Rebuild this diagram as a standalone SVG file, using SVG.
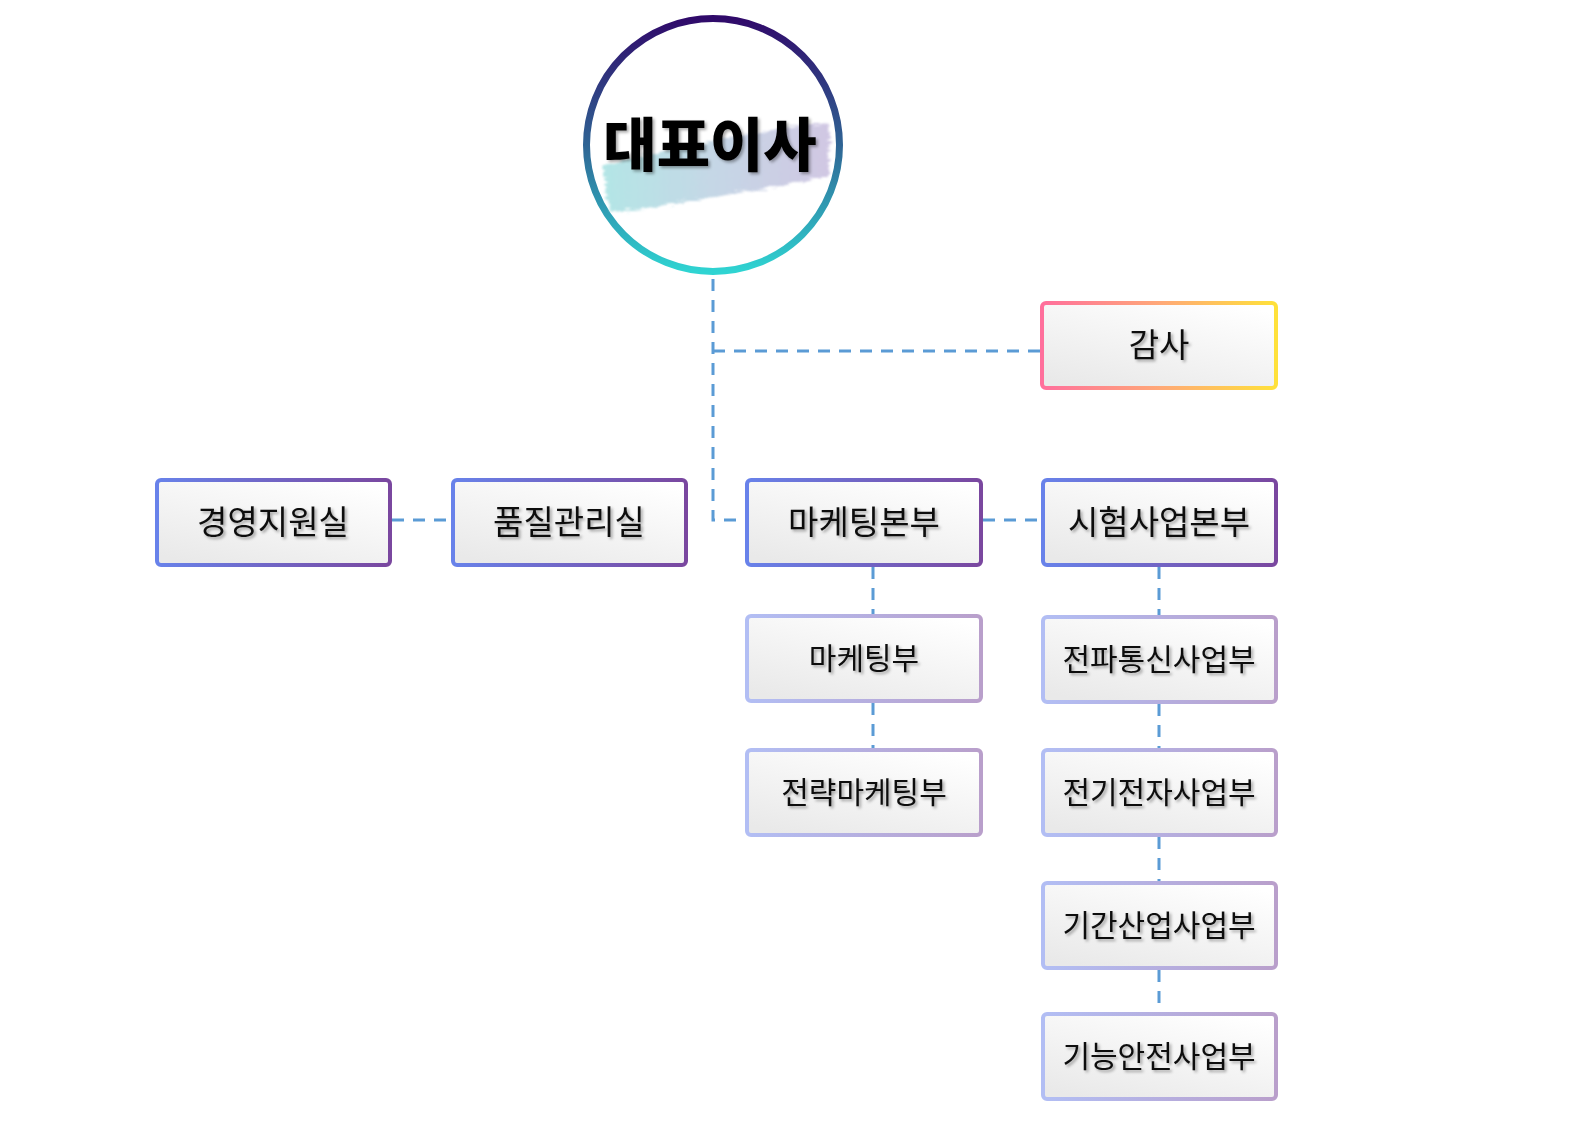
<svg xmlns="http://www.w3.org/2000/svg" width="1576" height="1125" viewBox="0 0 1576 1125">
<defs>
<linearGradient id="fillG" x1="0.8" y1="0" x2="0.2" y2="1">
<stop offset="0" stop-color="#ffffff"/>
<stop offset="1" stop-color="#e9e9e9"/>
</linearGradient>
<linearGradient id="mainStroke" x1="0" y1="0" x2="1" y2="0">
<stop offset="0" stop-color="#6882ea"/>
<stop offset="1" stop-color="#7a479f"/>
</linearGradient>
<linearGradient id="subStroke" x1="0" y1="0" x2="1" y2="0">
<stop offset="0" stop-color="#b2bef4"/>
<stop offset="1" stop-color="#b99fcb"/>
</linearGradient>
<linearGradient id="auditStroke" x1="0" y1="0" x2="1" y2="0">
<stop offset="0" stop-color="#ff6f9c"/>
<stop offset="0.5" stop-color="#ffa878"/>
<stop offset="1" stop-color="#ffe13a"/>
</linearGradient>
<linearGradient id="circleStroke" x1="0" y1="0" x2="0" y2="1">
<stop offset="0" stop-color="#300a6a"/>
<stop offset="0.5" stop-color="#2f6494"/>
<stop offset="1" stop-color="#2fd4d2"/>
</linearGradient>
<linearGradient id="brushG" x1="0" y1="0" x2="1" y2="0">
<stop offset="0" stop-color="#a7e2e2"/>
<stop offset="0.5" stop-color="#bcd0e2"/>
<stop offset="1" stop-color="#c9bedf"/>
</linearGradient>
<filter id="shadow" x="-10%" y="-20%" width="130%" height="150%">
<feDropShadow dx="2" dy="2" stdDeviation="1.5" flood-color="#000" flood-opacity="0.35"/>
</filter>
<filter id="brushF" x="-10%" y="-30%" width="120%" height="160%">
<feTurbulence type="fractalNoise" baseFrequency="0.08 0.5" numOctaves="2" seed="3" result="n"/>
<feDisplacementMap in="SourceGraphic" in2="n" scale="10" xChannelSelector="R" yChannelSelector="G" result="d"/>
<feGaussianBlur in="d" stdDeviation="0.8"/>
</filter>
<style>
.box{fill:url(#fillG);stroke-width:4}
.main{stroke:url(#mainStroke)}
.sub{stroke:url(#subStroke)}
.audit{stroke:url(#auditStroke)}
.lbl{font-family:"Noto Sans CJK KR","Noto Sans",sans-serif;fill:#111;text-anchor:middle;filter:url(#shadow)}
.big{font-size:33px}
.small{font-size:30px}
.conn{fill:none;stroke:#5b9bd5;stroke-width:3;stroke-dasharray:12 9}
</style>
</defs>
<rect width="1576" height="1125" fill="#ffffff"/>

<g id="connectors">
<path class="conn" d="M713 279 V520 H745"/>
<path class="conn" d="M713 351 H1040"/>
<path class="conn" d="M392 520 H451"/>
<path class="conn" d="M983 520 H1041"/>
<path class="conn" d="M873 567 V614"/>
<path class="conn" d="M873 703 V748"/>
<path class="conn" d="M1159 567 V615"/>
<path class="conn" d="M1159 704 V748"/>
<path class="conn" d="M1159 837 V881"/>
<path class="conn" d="M1159 970 V1012"/>
</g>

<g id="ceo">
<circle cx="713" cy="145" r="126.5" fill="#ffffff" stroke="url(#circleStroke)" stroke-width="7"/>
<path d="M604 166 C640 156 700 142 760 132 C790 127 815 122 830 124 L828 176 C800 182 760 190 720 196 C680 202 640 210 612 212 C606 200 604 185 604 166 Z" fill="url(#brushG)" opacity="0.85" filter="url(#brushF)"/>
<text x="710" y="166" font-family="'Noto Sans CJK KR','Noto Sans',sans-serif" font-weight="900" font-size="58" text-anchor="middle" fill="#000" filter="url(#shadow)">대표이사</text>
</g>

<g id="audit">
<rect class="box audit" x="1042" y="303" width="234" height="85" rx="4"/>
<text class="lbl big" x="1159" y="357">감사</text>
</g>

<g id="mgmt">
<rect class="box main" x="157" y="480" width="233" height="85" rx="4"/>
<text class="lbl big" x="273" y="534">경영지원실</text>
</g>

<g id="quality">
<rect class="box main" x="453" y="480" width="233" height="85" rx="4"/>
<text class="lbl big" x="569" y="534">품질관리실</text>
</g>

<g id="marketingHQ">
<rect class="box main" x="747" y="480" width="234" height="85" rx="4"/>
<text class="lbl big" x="864" y="534">마케팅본부</text>
</g>

<g id="testHQ">
<rect class="box main" x="1043" y="480" width="233" height="85" rx="4"/>
<text class="lbl big" x="1159" y="534">시험사업본부</text>
</g>

<g id="marketing">
<rect class="box sub" x="747" y="616" width="234" height="85" rx="4"/>
<text class="lbl small" x="864" y="669">마케팅부</text>
</g>

<g id="stratMarketing">
<rect class="box sub" x="747" y="750" width="234" height="85" rx="4"/>
<text class="lbl small" x="864" y="803">전략마케팅부</text>
</g>

<g id="radio">
<rect class="box sub" x="1043" y="617" width="233" height="85" rx="4"/>
<text class="lbl small" x="1159" y="670">전파통신사업부</text>
</g>

<g id="electric">
<rect class="box sub" x="1043" y="750" width="233" height="85" rx="4"/>
<text class="lbl small" x="1159" y="803">전기전자사업부</text>
</g>

<g id="infra">
<rect class="box sub" x="1043" y="883" width="233" height="85" rx="4"/>
<text class="lbl small" x="1159" y="936">기간산업사업부</text>
</g>

<g id="safety">
<rect class="box sub" x="1043" y="1014" width="233" height="85" rx="4"/>
<text class="lbl small" x="1159" y="1067">기능안전사업부</text>
</g>
</svg>
